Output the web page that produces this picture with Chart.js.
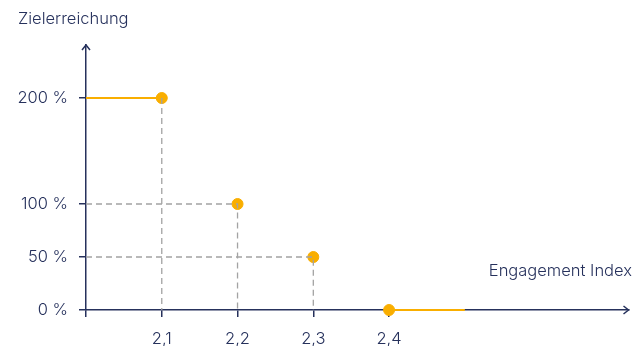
<!DOCTYPE html>
<html>
<head>
<meta charset="utf-8">
<script src="https://cdn.jsdelivr.net/npm/chart.js@4"></script>
<style>
  html, body { margin: 0; padding: 0; background: #fff; }
  #wrap { width: 635px; height: 346px; }
</style>
</head>
<body>
<div id="wrap"><canvas id="chart"></canvas></div>
<script>
// Engagement index vs. Zielerreichung
const indexValues = [2.1, 2.2, 2.3, 2.4];
const goalValues = [200, 100, 50, 0];
const xTickValues = [2.0, 2.1, 2.2, 2.3, 2.4];
const yTickValues = [0, 50, 100, 200];
const capStart = [{ x: 2.0, y: 200 }, { x: 2.1, y: 200 }];
const capEnd = [{ x: 2.4, y: 0 }, { x: 2.5, y: 0 }];

const navy = '#26315c';
const orange = '#f9ae00';
const grey = '#a3a3a3';
const font = { family: 'Inter', size: 16.5, weight: 300 };

// Dashed guide lines from the y axis to each point and down to the x axis
// (the 200 % level already has the solid orange cap, so it only gets the vertical)
const guides = indexValues
    .map((x, i) => ({ x, y: goalValues[i] }))
    .filter(p => p.y > 0)
    .map(p => ({
        type: 'line',
        data: p.y === capStart[0].y
            ? [{ x: p.x, y: p.y }, { x: p.x, y: 0 }]
            : [{ x: 2.0, y: p.y }, { x: p.x, y: p.y }, { x: p.x, y: 0 }],
        borderColor: grey,
        borderWidth: 1.3,
        borderDash: [6, 4],
        pointRadius: 0,
        fill: false
    }));

// Arrow heads and axis captions
const axisDecor = {
    id: 'axisDecor',
    afterDraw(chart) {
        const { ctx, chartArea } = chart;
        const left = chart.scales.x.getPixelForValue(2.0);
        const bottom = chart.scales.y.getPixelForValue(0);
        ctx.save();
        ctx.strokeStyle = navy;
        ctx.lineWidth = 1.5;
        ctx.beginPath();
        ctx.moveTo(left - 4, chartArea.top + 5);
        ctx.lineTo(left, chartArea.top);
        ctx.lineTo(left + 4, chartArea.top + 5);
        ctx.moveTo(chartArea.right - 5, bottom - 4);
        ctx.lineTo(chartArea.right, bottom);
        ctx.lineTo(chartArea.right - 5, bottom + 4);
        ctx.stroke();

        ctx.fillStyle = navy;
        ctx.font = `${font.weight} ${font.size}px ${font.family}`;
        ctx.textBaseline = 'middle';
        ctx.textAlign = 'left';
        ctx.fillText('Zielerreichung', 18, 19);
        ctx.textAlign = 'right';
        ctx.fillText('Engagement Index', 632, 271);
        ctx.restore();
    }
};

new Chart(document.getElementById('chart'), {
    type: 'scatter',
    data: {
        datasets: [
            ...guides,
            {
                type: 'line',
                data: capStart,
                borderColor: orange,
                borderWidth: 2,
                pointRadius: 0
            },
            {
                type: 'line',
                data: capEnd,
                borderColor: orange,
                borderWidth: 2,
                pointRadius: 0
            },
            {
                data: indexValues.map((x, i) => ({ x, y: goalValues[i] })),
                backgroundColor: orange,
                borderColor: orange,
                pointRadius: 5.5,
                pointHoverRadius: 5.5
            }
        ]
    },
    options: {
        responsive: true,
        maintainAspectRatio: false,
        animation: false,
        clip: false,
        layout: { padding: { top: 45, right: 2, left: 0, bottom: 0 } },
        plugins: { legend: { display: false }, tooltip: { enabled: false } },
        scales: {
            x: {
                type: 'linear',
                min: 2.0,
                max: 2.716,
                afterBuildTicks: (scale) => { scale.ticks = xTickValues.map(v => ({ value: v })); },
                afterFit: (scale) => { scale.height = 36; },
                ticks: {
                    color: navy,
                    font,
                    padding: 12,
                    callback: (v) => v === 2.0 ? '' : v.toFixed(1).replace('.', ',')
                },
                grid: { drawOnChartArea: false, tickLength: 7, color: navy, lineWidth: 1.5 },
                border: { display: true, color: navy, width: 1.5 }
            },
            y: {
                type: 'linear',
                min: 0,
                max: 250,
                afterBuildTicks: (scale) => { scale.ticks = yTickValues.map(v => ({ value: v })); },
                afterFit: (scale) => { scale.width = 86; },
                ticks: {
                    color: navy,
                    font,
                    padding: 11,
                    callback: (v) => v + ' %'
                },
                grid: { drawOnChartArea: false, tickLength: 7, color: navy, lineWidth: 1.5 },
                border: { display: true, color: navy, width: 1.5 }
            }
        }
    },
    plugins: [axisDecor]
});
</script>
</body>
</html>
